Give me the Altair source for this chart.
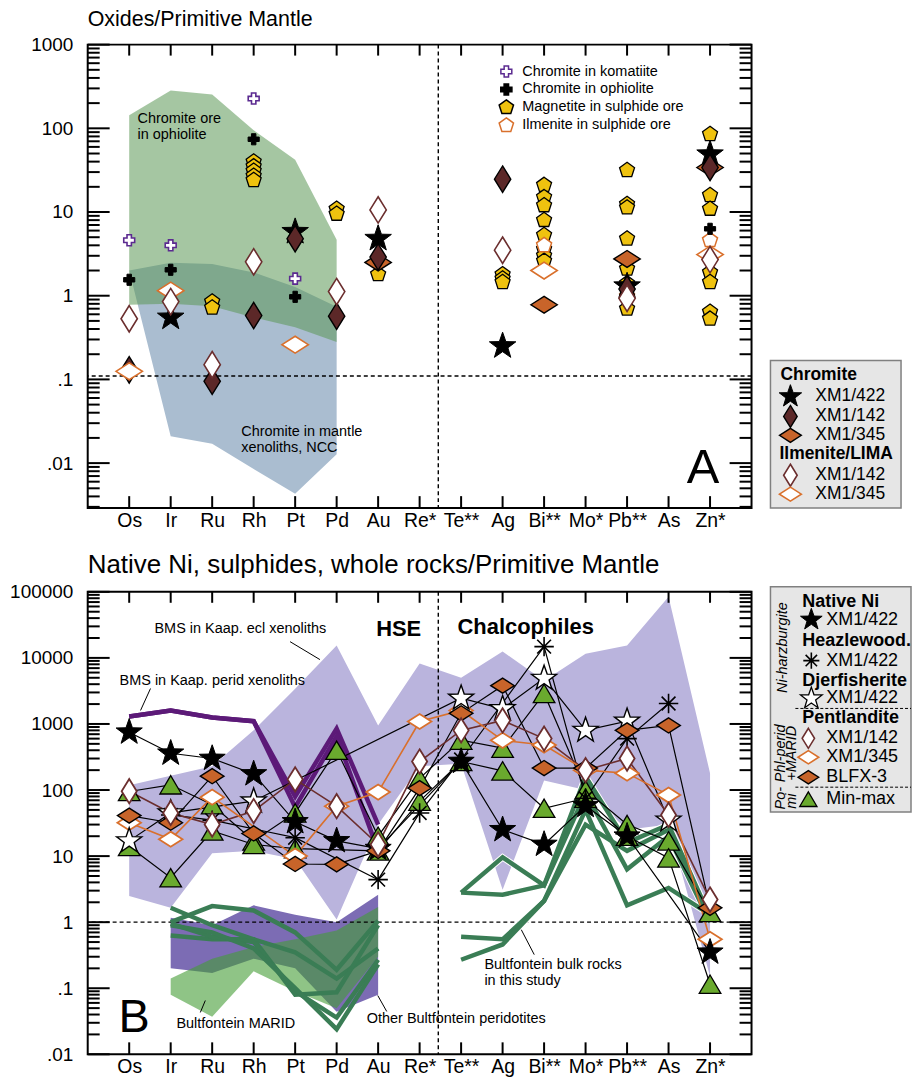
import math
import altair as alt
import pandas as pd

ELEMENTS = ["Os", "Ir", "Ru", "Rh", "Pt", "Pd", "Au", "Re*", "Te**", "Ag", "Bi**", "Mo*", "Pb**", "As", "Zn*"]
POS = {e: i for i, e in enumerate(ELEMENTS)}

# ---------------- Panel A: oxides / primitive mantle ----------------
chromite_komatiite = {"Os": [4.6], "Ir": [4.0], "Rh": [227], "Pt": [1.6]}
chromite_ophiolite = {"Os": [1.55], "Ir": [2.04], "Rh": [74], "Pt": [0.97], "Zn*": [6.3]}
magnetite_ore = {"Ru": [0.85, 0.72], "Rh": [40, 35, 31, 27, 24], "Pd": [10.9, 9.5], "Au": [1.8],
                 "Ag": [1.8, 1.6, 1.45], "Bi**": [21, 15, 12, 8, 5.3, 3.6, 3.0, 2.6],
                 "Pb**": [31.6, 12.4, 11.3, 4.8, 2.1, 1.4, 0.7],
                 "Zn*": [85, 15.9, 10.9, 1.9, 1.45, 0.64, 0.53]}
ilmenite_ore = {"Bi**": [4.0], "Pb**": [0.98], "Zn*": [4.6]}
chr_422 = {"Ir": [0.55], "Pt": [5.8], "Au": [4.8], "Ag": [0.25], "Pb**": [1.3], "Zn*": [49]}
chr_142 = {"Os": [0.13], "Ru": [0.095], "Rh": [0.58], "Pt": [4.8], "Pd": [0.57], "Au": [2.9],
           "Ag": [24.7], "Pb**": [1.2], "Zn*": [34]}
chr_345 = {"Au": [2.5], "Bi**": [0.78], "Pb**": [2.75], "Zn*": [34]}
ilm_142 = {"Os": [0.53], "Ir": [0.85], "Ru": [0.15], "Rh": [2.54], "Pd": [1.12], "Au": [10.6],
           "Ag": [3.5], "Pb**": [0.93], "Zn*": [2.7]}
ilm_345 = {"Os": [0.125], "Ir": [1.15], "Pt": [0.26], "Bi**": [2.0], "Zn*": [3.1]}

field_elements = ["Os", "Ir", "Ru", "Rh", "Pt", "Pd"]
ophiolite_ore_top = [143, 283, 254, 95, 42, 4.65]
ophiolite_ore_bottom = [0.78, 0.8, 0.75, 0.55, 0.42, 0.28]
ncc_top = [2.0, 2.47, 2.4, 1.9, 1.27, 0.74]
ncc_bottom = [2.0, 0.021, 0.017, 0.0085, 0.0043, 0.0128]

# ---------------- Panel B: native Ni, sulphides, whole rocks ----------------
N = None
native_ni = [750, 360, 300, 175, 33, 17, 13, N, 270, 25, 15, 58, 20, N, 0.35]
heazlewoodite = [N, 42, 35, N, 19, N, 4.4, 45, 290, N, 14800, 75, 600, 2040, N]
djerfisherite = [17, 45, N, 68, N, N, N, N, 2450, 1700, 4900, 800, 1100, 35, N]
pn_142 = [96, 45, 30, 48, 145, 57, 15, 270, 800, 1130, 600, 200, 300, 42, 2.2]
pn_345 = [32, 18, 78, N, 10, 57, 93, 1090, 1600, 565, 480, 200, 180, 84, 0.55]
pn_blfx3 = [41, 32, 162, 22, 7.6, 7.5, 12, 107, 1450, 3800, 215, 215, 800, 950, 1.65]
pomi_max = [95, 120, 60, 17, 45, 400, 20, 150, 570, 430, 2900, 100, 30, 17, 1.4]
pomi_min = [14, 4.7, 24, 15, 13, N, 12, 68, 270, 195, 53, 75, 20, 9.4, 0.115]

perid_bms_a = [1300, 1600, 1250, 1100, 80, 850, 30, N, N, N, N, N, N, N, N]
perid_bms_b = [1300, 1600, 1250, 1100, 55, 650, 12, N, N, N, N, N, N, N, N]

bulk_hse = [
    [N, 1.0, 1.75, 1.5, 0.7, 0.19, 1.05],
    [N, 1.65, 0.9, 0.55, 0.35, 0.14, 0.4],
    [N, 0.63, 0.55, 0.55, 0.08, 0.087, 0.9],
    [N, 0.95, 0.6, 0.5, 0.09, 0.036, 0.27],
    [N, 0.9, 0.7, 0.4, 0.1, 0.024, 0.23],
]
bulk_chalco = [  # Te** .. Zn*
    [2.8, 9.6, 3.6, 160, 16, 30, 1.2],
    [2.8, 2.6, 3.6, 90, 6.3, 20, 1.0],
    [0.6, 0.55, 2.1, 50, 1.8, 3.3, 1.3],
    [0.27, 0.46, 2.1, 30, 12, 25, 1.1],
]

ecl_top = [118, 165, 230, 800, 3400, 15400, 950, 8200, 5000, 12500, 4500, 11600, 15400, 84000, 180]
ecl_bottom = [2.5, 1.65, 11, 12, 9, 1.1, 30, 230, 250, 3.1, 140, 100, 25, 30, 0.15]
band_elements = ["Ir", "Ru", "Rh", "Pt", "Pd", "Au"]
other_perid_top = [1.17, 0.9, 1.8, 1.3, 1.0, 2.6]
other_perid_bottom = [0.2, 0.17, 0.28, 0.2, 0.044, 0.08]
marid_top = [0.14, 0.28, 0.42, 0.55, 0.75, 1.7]
marid_bottom = [0.08, 0.037, 0.18, 0.09, 0.05, 0.3]

# ---------------- shapes ----------------
def poly(n, r_out, r_in=None, rot=-90):
    pts = []
    k = 2 * n if r_in else n
    for i in range(k):
        a = math.radians(rot + i * 360 / k)
        r = r_out if (r_in is None or i % 2 == 0) else r_in
        pts.append(f"{r * math.cos(a):.3f},{r * math.sin(a):.3f}")
    return "M" + "L".join(pts) + "Z"

STAR = poly(5, 1.0, 0.4)
PENTAGON = poly(5, 1.0)
TALL = "M0,-1L0.62,0L0,1L-0.62,0Z"
WIDE = "M-1,0L0,-0.64L1,0L0,0.64Z"
TRI = "M0,-0.85L1,0.85L-1,0.85Z"
ASTER = "M0,-1L0,1M-1,0L1,0M-0.71,-0.71L0.71,0.71M-0.71,0.71L0.71,-0.71"

BROWN = "#5c2828"
ORANGE = "#c8642a"
ORANGE_L = "#d9702c"
BROWN_L = "#6b2e2e"
YELLOW = "#efc20f"
GREEN_T = "#6aaa2e"
PURPLE_C = "#5b2a90"
FONT = "Liberation Sans"
ANN = 14.5   # annotation font size
LEG = 17.5   # side legend font size

W, H = 666, 465
WB, HB = 666, 464
XS = alt.Scale(domain=[-1, 15], nice=False, zero=False)
YSA = alt.Scale(type="log", domain=[0.0029, 1000], nice=False)
YSB = alt.Scale(type="log", domain=[0.01, 100000], nice=False)

LBL_X = "[" + ",".join(f"'{e}'" for e in ELEMENTS) + "][datum.value]"
LBL_Y = "datum.value < 0.05 ? '.01' : datum.value < 0.5 ? '.1' : format(datum.value, 'd')"
XAXIS = alt.Axis(values=list(range(15)), labelExpr=LBL_X, ticks=False, domain=False, grid=False,
                 title=None, labelFontSize=19.5, labelPadding=3, labelColor="black", labelFlush=False,
                 labelFont=FONT)


def yaxis(values):
    return alt.Axis(values=values, labelExpr=LBL_Y, ticks=False, domain=False, grid=False, title=None,
                    labelFontSize=19, labelPadding=15, labelColor="black", labelFlush=False,
                    minExtent=80, maxExtent=80, labelFont=FONT, labelOverlap=False)


YAX_A = yaxis([0.01, 0.1, 1, 10, 100, 1000])
YAX_B = yaxis([0.01, 0.1, 1, 10, 100, 1000, 10000, 100000])
ONE = pd.DataFrame({"k": [0]})


def X():
    return alt.X("pos:Q", scale=XS, axis=XAXIS)


def pts(d):
    return pd.DataFrame([{"pos": POS[e], "v": v} for e, vals in d.items() for v in vals])


def seq(vals, start=0, name="s"):
    return pd.DataFrame([{"pos": start + i, "v": v, "s": name} for i, v in enumerate(vals) if v is not None])


def markers(df, ys, yax, shape, size, fill, stroke, sw=1.4):
    kw = dict(shape=shape, size=size, opacity=1, stroke=stroke, strokeWidth=sw)
    if fill is None:
        kw["filled"] = False
    else:
        kw["filled"] = True
        kw["fill"] = fill
    return alt.Chart(df).mark_point(**kw).encode(x=X(), y=alt.Y("v:Q", scale=ys, axis=yax))


def band(elements, top, bottom, ys, yax, color, opacity=1.0):
    df = pd.DataFrame({"pos": [POS[e] for e in elements], "v": top, "v2": bottom})
    return alt.Chart(df).mark_area(color=color, opacity=opacity, interpolate="linear").encode(
        x=X(), y=alt.Y("v:Q", scale=ys, axis=yax), y2="v2:Q")


def lines(df, ys, yax, color, width):
    return alt.Chart(df).mark_line(color=color, strokeWidth=width, strokeJoin="miter").encode(
        x=X(), y=alt.Y("v:Q", scale=ys, axis=yax), detail="s:N")


def tick_layers(ys, yax, lo, hi, dlo, dhi, w, h):
    rows = []
    for k in range(lo, hi + 1):
        for m in range(1, 10):
            v = m * 10 ** k
            if dlo * 0.999 <= v <= dhi * 1.001:
                rows.append({"v": v, "major": m == 1})
    t = pd.DataFrame(rows)
    maj = t[t.major]
    mnr = t[~t.major]
    xt = pd.DataFrame({"pos": list(range(15))})
    out = []
    for d, ln in ((maj, 22), (mnr, 12)):
        out.append(alt.Chart(d).mark_rule(color="black", strokeWidth=2).encode(
            y=alt.Y("v:Q", scale=ys, axis=yax), x=alt.value(0), x2=alt.value(ln)))
        out.append(alt.Chart(d).mark_rule(color="black", strokeWidth=2).encode(
            y=alt.Y("v:Q", scale=ys, axis=yax), x=alt.value(w), x2=alt.value(w - ln)))
    out.append(alt.Chart(xt).mark_rule(color="black", strokeWidth=2).encode(
        x=X(), y=alt.value(0), y2=alt.value(11)))
    out.append(alt.Chart(xt).mark_rule(color="black", strokeWidth=2).encode(
        x=X(), y=alt.value(h), y2=alt.value(h - 12)))
    return out


def dashed(ys, yax, hval):
    return [
        alt.Chart(pd.DataFrame({"v": [hval]})).mark_rule(color="black", strokeWidth=1.4, strokeDash=[4, 3]).encode(
            y=alt.Y("v:Q", scale=ys, axis=yax)),
        alt.Chart(pd.DataFrame({"pos": [7.45]})).mark_rule(color="black", strokeWidth=1.4, strokeDash=[4, 3]).encode(
            x=X()),
    ]


def txt(x, y, s, size=ANN, weight="normal", align="left", angle=0, style="normal"):
    kw = dict(text=s, fontSize=size, fontWeight=weight, align=align, baseline="middle", font=FONT,
              color="black", fontStyle=style)
    if angle:
        kw["angle"] = angle
    return alt.Chart(ONE).mark_text(**kw).encode(x=alt.value(x), y=alt.value(y))


def sym(x, y, shape, size, fill, stroke, sw=1.4):
    kw = dict(shape=shape, size=size, opacity=1, stroke=stroke, strokeWidth=sw)
    if fill is None:
        kw["filled"] = False
    else:
        kw["filled"] = True
        kw["fill"] = fill
    return alt.Chart(ONE).mark_point(**kw).encode(x=alt.value(x), y=alt.value(y))


def seg(x1, y1, x2, y2, dash=None, width=1.0):
    kw = dict(color="black", strokeWidth=width)
    if dash:
        kw["strokeDash"] = dash
    return alt.Chart(ONE).mark_rule(**kw).encode(
        x=alt.value(x1), y=alt.value(y1), x2=alt.value(x2), y2=alt.value(y2))


def box(x1, y1, x2, y2):
    return alt.Chart(ONE).mark_rect(fill="#e6e6e6", stroke="#808080", strokeWidth=1.5).encode(
        x=alt.value(x1), x2=alt.value(x2), y=alt.value(y1), y2=alt.value(y2))


# ---------------- build panel A ----------------
A = []
A.append(band(field_elements, ncc_top, ncc_bottom, YSA, YAX_A, "#aabdd0"))
A.append(band(field_elements, ophiolite_ore_top, ophiolite_ore_bottom, YSA, YAX_A, "#5b9756", 0.55))
A += dashed(YSA, YAX_A, 0.11)
A += tick_layers(YSA, YAX_A, -3, 3, 0.0029, 1000, W, H)
A.append(markers(pts(magnetite_ore), YSA, YAX_A, PENTAGON, 250, YELLOW, "black", 1.3))
A.append(markers(pts(ilmenite_ore), YSA, YAX_A, PENTAGON, 250, "white", ORANGE_L, 1.5))
A.append(markers(pts(chromite_komatiite), YSA, YAX_A, "cross", 120, "white", PURPLE_C, 1.6))
A.append(markers(pts(chromite_ophiolite), YSA, YAX_A, "cross", 125, "black", "black", 1))
A.append(markers(pts(chr_422), YSA, YAX_A, STAR, 780, "black", "black", 1))
A.append(markers(pts(chr_345), YSA, YAX_A, WIDE, 700, ORANGE, "black", 1.4))
A.append(markers(pts(chr_142), YSA, YAX_A, TALL, 700, BROWN, "black", 1.4))
A.append(markers(pts(ilm_345), YSA, YAX_A, WIDE, 700, "white", ORANGE_L, 1.6))
A.append(markers(pts(ilm_142), YSA, YAX_A, TALL, 700, "white", BROWN_L, 1.6))
# field labels
A.append(txt(50, 75, "Chromite ore"))
A.append(txt(50, 91, "in ophiolite"))
A.append(txt(154, 389, "Chromite in mantle"))
A.append(txt(154, 405, "xenoliths, NCC"))
A.append(txt(601, 425, "A", size=49))
# inner legend
for i, (shape, size, fill, stroke, label) in enumerate([
        ("cross", 120, "white", PURPLE_C, "Chromite in komatiite"),
        ("cross", 125, "black", "black", "Chromite in ophiolite"),
        (PENTAGON, 230, YELLOW, "black", "Magnetite in sulphide ore"),
        (PENTAGON, 230, "white", ORANGE_L, "Ilmenite in sulphide ore")]):
    y = 27 + 18 * i
    A.append(sym(420, y, shape, size, fill, stroke, 1.5))
    A.append(txt(436, y, label))
# side legend
A.append(box(685, 317, 816, 465))
A.append(txt(695, 331, "Chromite", size=LEG, weight="bold"))
A.append(sym(705, 353, STAR, 560, "black", "black", 1))
A.append(txt(730, 353, "XM1/422", size=LEG))
A.append(sym(705, 373, TALL, 480, BROWN, "black", 1.4))
A.append(txt(730, 373, "XM1/142", size=LEG))
A.append(sym(705, 392, WIDE, 480, ORANGE, "black", 1.4))
A.append(txt(730, 392, "XM1/345", size=LEG))
A.append(txt(694, 411, "Ilmenite/LIMA", size=LEG, weight="bold"))
A.append(sym(705, 432, TALL, 480, "white", BROWN_L, 1.6))
A.append(txt(730, 432, "XM1/142", size=LEG))
A.append(sym(705, 451, WIDE, 480, "white", ORANGE_L, 1.6))
A.append(txt(730, 451, "XM1/345", size=LEG))

panel_a = alt.layer(*A).properties(
    width=W, height=H,
    title=alt.TitleParams("Oxides/Primitive Mantle", anchor="start", frame="group", fontSize=21.5,
                          fontWeight="normal", offset=5, font=FONT, color="black"))

# ---------------- build panel B ----------------
B = []
B.append(band(ELEMENTS, ecl_top, ecl_bottom, YSB, YAX_B, "#bab4dd"))
B.append(band(band_elements, other_perid_top, other_perid_bottom, YSB, YAX_B, "#7c6cb4"))
B.append(band(band_elements, marid_top, marid_bottom, YSB, YAX_B, "#449d35", 0.6))
B += dashed(YSB, YAX_B, 1)
B += tick_layers(YSB, YAX_B, -2, 5, 0.01, 100000, WB, HB)

perid = pd.concat([seq(perid_bms_a, 0, "a"), seq(perid_bms_b, 0, "b")])
B.append(lines(perid, YSB, YAX_B, "#5c1a78", 4.5))

bulk_left = pd.concat([seq(v, 0, f"h{i}") for i, v in enumerate(bulk_hse)])
bulk_right = pd.concat([seq(v, 8, f"c{i}") for i, v in enumerate(bulk_chalco)])
B.append(lines(bulk_left, YSB, YAX_B, "#3a7d55", 4.5))
B.append(lines(bulk_right, YSB, YAX_B, "white", 6.5))
B.append(lines(bulk_right, YSB, YAX_B, "#3a7d55", 4.5))

black_series = pd.concat([seq(native_ni, 0, "ni"), seq(heazlewoodite, 0, "hz"), seq(djerfisherite, 0, "dj"),
                          seq(pn_blfx3, 0, "bl"), seq(pomi_max, 0, "mx"), seq(pomi_min, 0, "mn")])
B.append(lines(black_series, YSB, YAX_B, "black", 1.2))
B.append(lines(seq(pn_142, 0, "p142"), YSB, YAX_B, BROWN_L, 1.6))
B.append(lines(seq(pn_345, 0, "p345"), YSB, YAX_B, ORANGE_L, 1.6))

B.append(markers(seq(pomi_max), YSB, YAX_B, TRI, 470, GREEN_T, "black", 1.3))
B.append(markers(seq(pomi_min), YSB, YAX_B, TRI, 470, GREEN_T, "black", 1.3))
B.append(markers(seq(pn_345), YSB, YAX_B, WIDE, 560, "white", ORANGE_L, 1.8))
B.append(markers(seq(djerfisherite), YSB, YAX_B, STAR, 700, "white", "black", 1.4))
B.append(markers(seq(heazlewoodite), YSB, YAX_B, ASTER, 380, None, "black", 1.6))
B.append(markers(seq(native_ni), YSB, YAX_B, STAR, 760, "black", "black", 1))
B.append(markers(seq(pn_blfx3), YSB, YAX_B, WIDE, 560, ORANGE, "black", 1.4))
B.append(markers(seq(pn_142), YSB, YAX_B, TALL, 600, "white", BROWN_L, 1.8))

# annotations
B.append(txt(67, 37, "BMS in Kaap. ecl xenoliths"))
B.append(seg(203, 50, 233, 68))
B.append(txt(32, 89, "BMS in Kaap. perid xenoliths"))
B.append(seg(63, 97, 53, 119))
B.append(txt(312, 37, "HSE", size=22, weight="bold", align="center"))
B.append(txt(371, 35, "Chalcophiles", size=22, weight="bold"))
B.append(txt(398, 374, "Bultfontein bulk rocks"))
B.append(txt(398, 390, "in this study"))
B.append(seg(448, 364, 435, 339))
B.append(txt(89, 434, "Bultfontein MARID"))
B.append(seg(113, 422, 118, 410))
B.append(txt(280, 429, "Other Bultfontein peridotites"))
B.append(seg(291, 405, 300, 421))
B.append(txt(31, 428, "B", size=47))

# side legend
B.append(box(685, -5, 826, 221))
B.append(txt(698, 56, "Ni-harzburgite", size=14.5, angle=270, align="center", style="italic"))
B.append(txt(696, 162, "Phl-perid", size=14.5, angle=270, align="center", style="italic"))
B.append(txt(707, 162, "+MARID", size=14.5, angle=270, align="center", style="italic"))
B.append(txt(696, 207, "Po-", size=14.5, angle=270, align="center", style="italic"))
B.append(txt(707, 210, "mi", size=14.5, angle=270, align="center", style="italic"))
B.append(txt(717, 10, "Native Ni", size=18, weight="bold"))
B.append(sym(726, 28, STAR, 520, "black", "black", 1))
B.append(txt(741, 28, "XM1/422", size=18))
B.append(txt(717, 49, "Heazlewood.", size=18, weight="bold"))
B.append(sym(726, 69, ASTER, 260, None, "black", 1.6))
B.append(txt(741, 69, "XM1/422", size=18))
B.append(txt(717, 89, "Djerfisherite", size=18, weight="bold"))
B.append(sym(726, 107, STAR, 520, "white", "black", 1.3))
B.append(txt(741, 107, "XM1/422", size=18))
B.append(seg(710, 117, 826, 117, dash=[3, 2]))
B.append(txt(717, 127, "Pentlandite", size=18, weight="bold"))
B.append(sym(723, 147, TALL, 400, "white", BROWN_L, 1.6))
B.append(txt(741, 147, "XM1/142", size=18))
B.append(sym(723, 166, WIDE, 430, "white", ORANGE_L, 1.6))
B.append(txt(741, 166, "XM1/345", size=18))
B.append(sym(723, 186, WIDE, 430, ORANGE, "black", 1.4))
B.append(txt(741, 186, "BLFX-3", size=18))
B.append(seg(710, 196, 826, 196, dash=[3, 2]))
B.append(sym(723, 208, TRI, 300, GREEN_T, "black", 1.3))
B.append(txt(741, 208, "Min-max", size=18))

panel_b = alt.layer(*B).properties(
    width=WB, height=HB,
    title=alt.TitleParams("Native Ni, sulphides, whole rocks/Primitive Mantle", anchor="start", frame="group",
                          fontSize=26, fontWeight="normal", offset=5, font=FONT, color="black"))

chart = alt.vconcat(panel_a, panel_b, spacing=20).properties(
    padding={"left": 7, "top": 6, "right": 0, "bottom": 0}
).configure(font=FONT).configure_view(stroke="black", strokeWidth=2)

chart.save("out.html", embed_options={"renderer": "svg", "actions": False})
